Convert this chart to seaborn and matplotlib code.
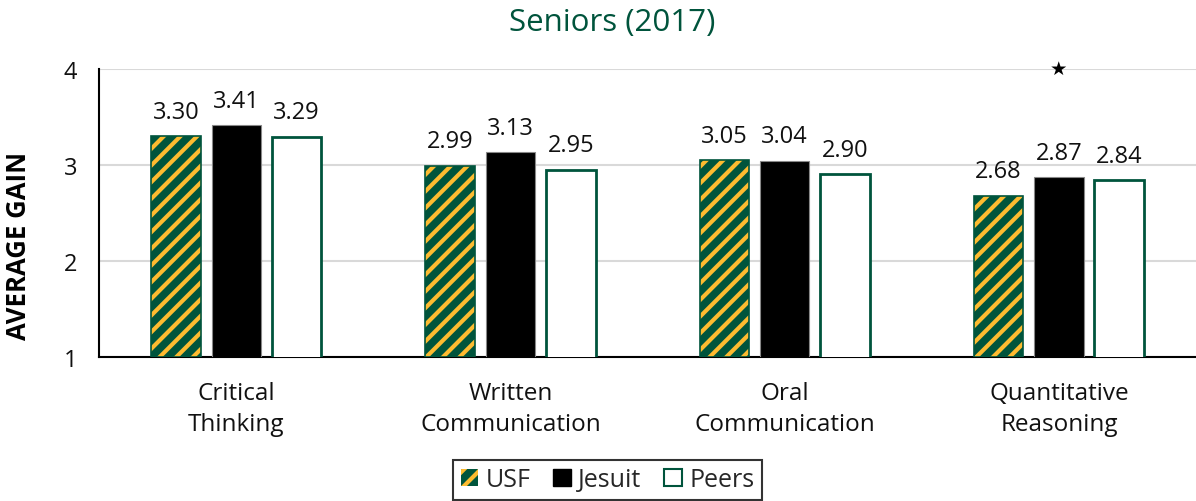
import matplotlib
matplotlib.use("Agg")
import matplotlib.pyplot as plt
import seaborn as sns
import pandas as pd
from matplotlib.patches import Patch

categories = ["Critical\nThinking", "Written\nCommunication", "Oral\nCommunication", "Quantitative\nReasoning"]
groups = ["USF", "Jesuit", "Peers"]
usf = [3.30, 2.99, 3.05, 2.68]
jesuit = [3.41, 3.13, 3.04, 2.87]
peers = [3.29, 2.95, 2.90, 2.84]
yticks = [1, 2, 3, 4]
star_category = "Quantitative\nReasoning"
star_group = "Jesuit"

GREEN = "#00543C"
GOLD = "#FDBB30"

sns.set_theme(style="white")
plt.rcParams["font.family"] = ["Open Sans", "DejaVu Sans"]
plt.rcParams["hatch.linewidth"] = 3.0

rows = []
for g, vals in zip(groups, [usf, jesuit, peers]):
    for c, v in zip(categories, vals):
        rows.append({"cat": c, "grp": g, "val": v})
df = pd.DataFrame(rows)

fig = plt.figure(figsize=(11.96, 5.02), dpi=100)
ax = fig.add_axes([0.083, 0.287, 0.917, 0.574])

sns.barplot(data=df, x="cat", y="val", hue="grp", order=categories, hue_order=groups,
            palette={"USF": GREEN, "Jesuit": "black", "Peers": "white"},
            width=0.66, gap=0.18, ax=ax, legend=False, errorbar=None, zorder=3)

for cont, g in zip(ax.containers, groups):
    for p in cont.patches:
        if g == "USF":
            p.set_facecolor(GREEN)
            p.set_edgecolor(GOLD)
            p.set_hatch("//")
            p.set_linewidth(0)
        elif g == "Jesuit":
            p.set_facecolor("black")
            p.set_edgecolor("#888888")
            p.set_linewidth(0.8)
        else:
            p.set_facecolor("white")
            p.set_edgecolor(GREEN)
            p.set_linewidth(2)
    ax.bar_label(cont, labels=[f"{v:.2f}" for v in cont.datavalues], padding=9,
                 fontsize=17, color="#111111")

for p in ax.containers[0].patches:
    r = plt.Rectangle((p.get_x(), 1), p.get_width(), p.get_height() - 1, fill=False,
                      edgecolor=GREEN, linewidth=1.2, zorder=4)
    ax.add_patch(r)

ci = categories.index(star_category)
si = groups.index(star_group)
sp = ax.containers[si].patches[ci]
ax.text(sp.get_x() + sp.get_width() / 2, 4.0, "★", ha="center", va="center",
        fontsize=14, family="DejaVu Sans", color="black", zorder=5)

ax.set_ylim(1, 4)
ax.set_xlim(-0.5, 3.5)
ax.set_yticks(yticks)
ax.set_yticklabels([str(t) for t in yticks], fontsize=17, color="#111111")
ax.tick_params(axis="y", length=0, pad=16)
ax.tick_params(axis="x", length=0, pad=17, labelsize=17.5, labelcolor="#111111")
for lbl in ax.get_xticklabels():
    lbl.set_linespacing(1.42)
ax.yaxis.grid(True, color="#D9D9D9", linewidth=1.5, zorder=0)
ax.xaxis.grid(False)
ax.set_axisbelow(True)
for s in ["top", "right"]:
    ax.spines[s].set_visible(False)
for s in ["left", "bottom"]:
    ax.spines[s].set_color("black")
    ax.spines[s].set_linewidth(1.5)
ax.set_xlabel("")
ax.set_ylabel("AVERAGE GAIN", fontsize=18.5, fontweight="bold", color="black")
ax.yaxis.set_label_coords(-0.061, 0.39)
ax.set_title("Seniors (2017)", fontsize=22.5, color=GREEN, pad=28, x=0.468)

handles = [
    Patch(facecolor=GREEN, edgecolor=GOLD, hatch="//", linewidth=0),
    Patch(facecolor="black", edgecolor="black"),
    Patch(facecolor="white", edgecolor=GREEN, linewidth=1.5),
]
leg = fig.legend(handles, groups, loc="center", bbox_to_anchor=(0.508, 0.042), ncol=3,
                 frameon=True, fancybox=False, fontsize=18, handlelength=0.7, handleheight=0.7,
                 handletextpad=0.3, columnspacing=0.9, borderpad=0.3)
leg.get_frame().set_edgecolor("black")
leg.get_frame().set_linewidth(1.5)

fig.savefig("out.png", dpi=100)
